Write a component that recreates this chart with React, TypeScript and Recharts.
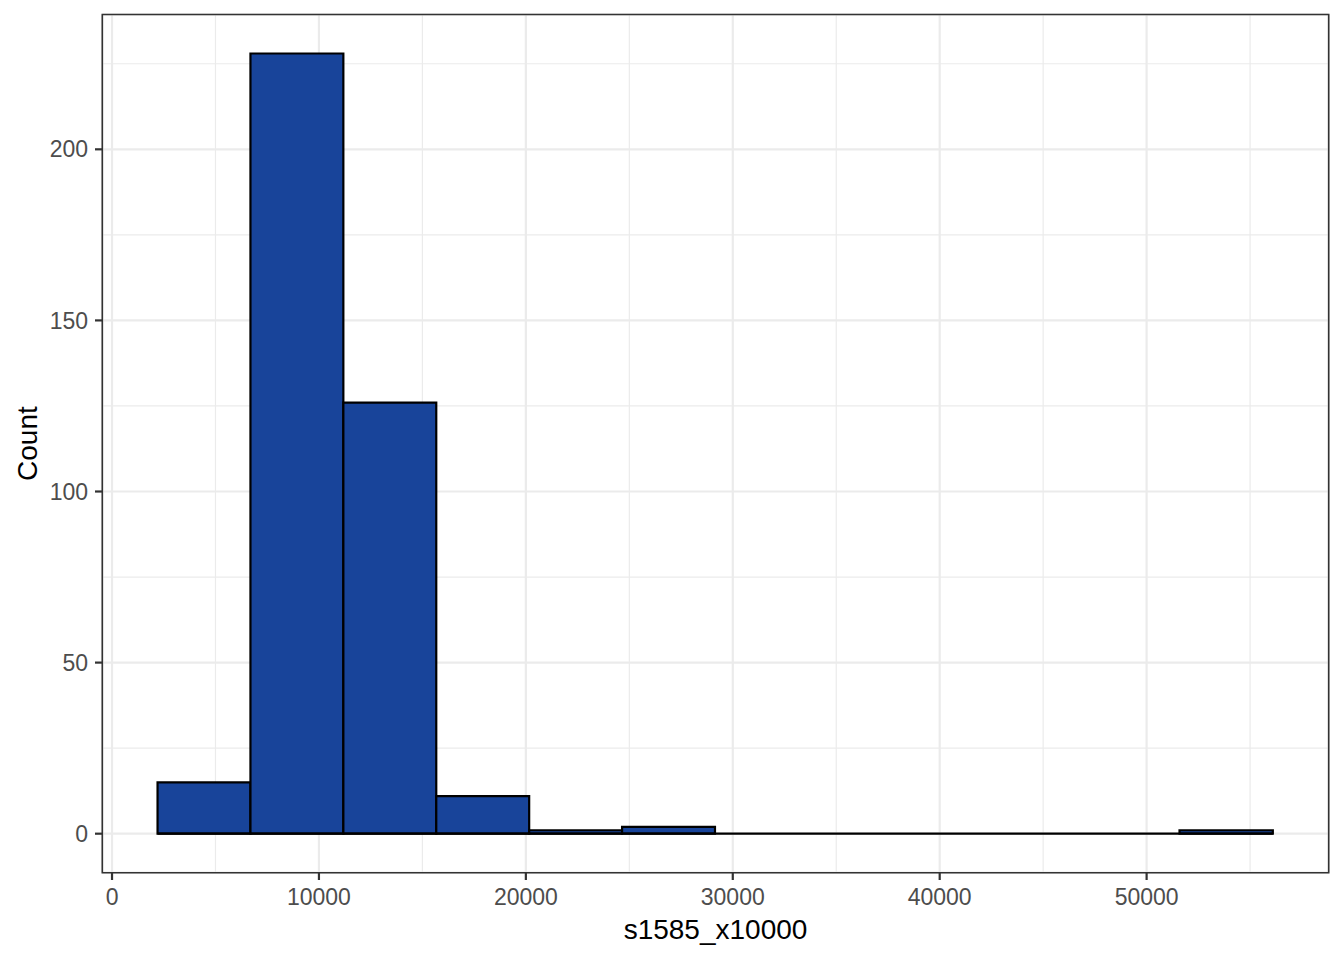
import React from 'react';
import {
  ComposedChart,
  XAxis,
  YAxis,
  CartesianGrid,
  ReferenceArea,
  ReferenceLine,
} from 'recharts';

// Histogram bin edges (s1585_x10000) and counts per bin
const binEdges = [2200, 6690, 11180, 15670, 20160, 24650, 29140, 33630, 38120, 42610, 47100, 51590, 56100];
const counts = [15, 228, 126, 11, 1, 2, 0, 0, 0, 0, 0, 1];

const xTicks = [0, 10000, 20000, 30000, 40000, 50000];
const xMinorTicks = [5000, 15000, 25000, 35000, 45000, 55000];
const yTicks = [0, 50, 100, 150, 200];
const yMinorTicks = [25, 75, 125, 175, 225];

const xDomain: [number, number] = [-470, 58800];
const yDomain: [number, number] = [-11.4, 239.4];

const xTitle = 's1585_x10000';
const yTitle = 'Count';

const bins = counts.map((c, i) => ({ x0: binEdges[i], x1: binEdges[i + 1], count: c }));

const FONT = '"Liberation Sans", Arial, sans-serif';
const FILL = '#18449A';

const XTitle = (props: any) => {
  const vb = props.viewBox || { x: 102.3, y: 872.7, width: 1226.4, height: 87.3 };
  return (
    <text
      x={vb.x + vb.width / 2}
      y={vb.y + 66.3}
      textAnchor="middle"
      fontFamily={FONT}
      fontSize={28}
      fill="#000000"
    >
      {xTitle}
    </text>
  );
};

const YTitle = (props: any) => {
  const vb = props.viewBox || { x: 0, y: 14.5, width: 102.3, height: 858.2 };
  const cx = 37;
  const cy = vb.y + vb.height / 2;
  return (
    <text
      x={cx}
      y={cy}
      transform={`rotate(-90, ${cx}, ${cy})`}
      textAnchor="middle"
      fontFamily={FONT}
      fontSize={28}
      fill="#000000"
    >
      {yTitle}
    </text>
  );
};

export default function App() {
  return (
    <div style={{ position: 'absolute', left: 0, top: 0, width: 1344, height: 960, background: '#ffffff' }}>
      <ComposedChart
        width={1344}
        height={960}
        data={bins}
        margin={{ top: 14.5, right: 15.3, bottom: 0, left: 0 }}
        style={{ fontFamily: FONT }}
      >
        <CartesianGrid
          stroke="#EBEBEB"
          strokeWidth={1.2}
          horizontalValues={yMinorTicks}
          verticalValues={xMinorTicks}
        />
        <CartesianGrid stroke="#EBEBEB" strokeWidth={2.2} />
        <XAxis
          type="number"
          dataKey="x0"
          domain={xDomain}
          ticks={xTicks}
          allowDataOverflow
          height={87.3}
          axisLine={false}
          tickSize={7.3}
          tickMargin={8.5}
          tickLine={{ stroke: '#333333', strokeWidth: 2.2 }}
          tick={{ fill: '#4D4D4D', fontSize: 23, fontFamily: FONT }}
          label={<XTitle />}
        />
        <YAxis
          type="number"
          domain={yDomain}
          ticks={yTicks}
          allowDataOverflow
          width={102.3}
          axisLine={false}
          tickSize={7.3}
          tickMargin={7}
          tickLine={{ stroke: '#333333', strokeWidth: 2.2 }}
          tick={{ fill: '#4D4D4D', fontSize: 23, fontFamily: FONT }}
          label={<YTitle />}
        />
        {bins.map((b, i) => (
          <ReferenceArea
            key={`bin-${i}`}
            x1={b.x0}
            x2={b.x1}
            y1={0}
            y2={b.count}
            fill={FILL}
            fillOpacity={1}
            stroke="#000000"
            strokeWidth={2.2}
            ifOverflow="visible"
          />
        ))}
        <ReferenceLine
          segment={[
            { x: binEdges[0], y: 0 },
            { x: binEdges[binEdges.length - 1], y: 0 },
          ]}
          stroke="#000000"
          strokeWidth={2.2}
          ifOverflow="visible"
        />
        <ReferenceArea
          x1={xDomain[0]}
          x2={xDomain[1]}
          y1={yDomain[0]}
          y2={yDomain[1]}
          fill="none"
          fillOpacity={0}
          stroke="#333333"
          strokeWidth={1.6}
          ifOverflow="visible"
        />
      </ComposedChart>
    </div>
  );
}
